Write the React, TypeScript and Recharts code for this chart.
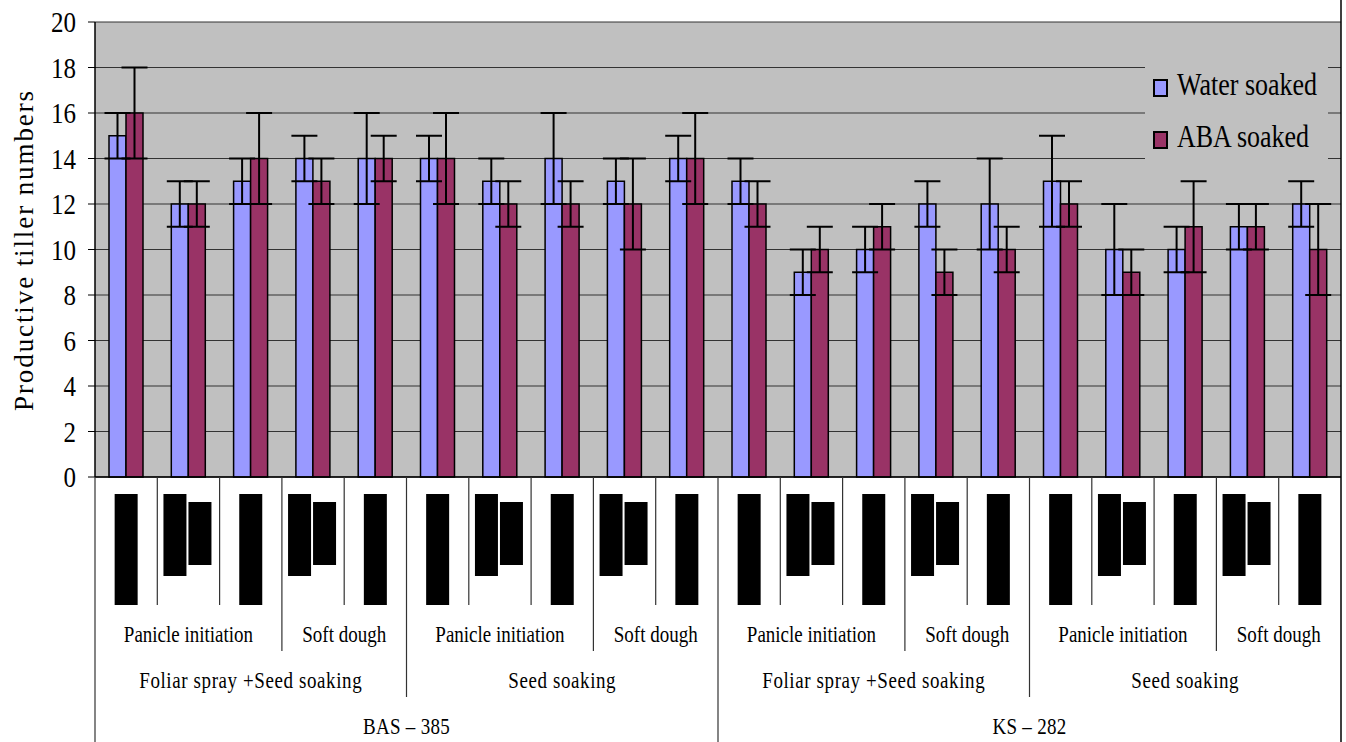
import React from 'react';
import { BarChart, Bar, XAxis, YAxis, CartesianGrid, Legend, ErrorBar, Label } from 'recharts';

// --- Data ---
const categories = [
  'T1', 'T2', 'T3', 'T4', 'T5', 'T6', 'T7', 'T8', 'T9', 'T10',
  'T11', 'T12', 'T13', 'T14', 'T15', 'T16', 'T17', 'T18', 'T19', 'T20',
];
// number of (hidden) label blocks printed under each bar pair
const labelBlocks = [1, 2, 1, 2, 1, 1, 2, 1, 2, 1, 1, 2, 1, 2, 1, 1, 2, 1, 2, 1];
const stages = [
  'Panicle initiation', 'Panicle initiation', 'Panicle initiation', 'Soft dough', 'Soft dough',
  'Panicle initiation', 'Panicle initiation', 'Panicle initiation', 'Soft dough', 'Soft dough',
  'Panicle initiation', 'Panicle initiation', 'Panicle initiation', 'Soft dough', 'Soft dough',
  'Panicle initiation', 'Panicle initiation', 'Panicle initiation', 'Soft dough', 'Soft dough',
];
const methods = [
  'Foliar spray +Seed soaking', 'Foliar spray +Seed soaking', 'Foliar spray +Seed soaking', 'Foliar spray +Seed soaking', 'Foliar spray +Seed soaking',
  'Seed soaking', 'Seed soaking', 'Seed soaking', 'Seed soaking', 'Seed soaking',
  'Foliar spray +Seed soaking', 'Foliar spray +Seed soaking', 'Foliar spray +Seed soaking', 'Foliar spray +Seed soaking', 'Foliar spray +Seed soaking',
  'Seed soaking', 'Seed soaking', 'Seed soaking', 'Seed soaking', 'Seed soaking',
];
const varieties = [
  'BAS – 385', 'BAS – 385', 'BAS – 385', 'BAS – 385', 'BAS – 385',
  'BAS – 385', 'BAS – 385', 'BAS – 385', 'BAS – 385', 'BAS – 385',
  'KS – 282', 'KS – 282', 'KS – 282', 'KS – 282', 'KS – 282',
  'KS – 282', 'KS – 282', 'KS – 282', 'KS – 282', 'KS – 282',
];
const waterSoaked = [15, 12, 13, 14, 14, 14, 13, 14, 13, 14, 13, 9, 10, 12, 12, 13, 10, 10, 11, 12];
const waterErr = [1, 1, 1, 1, 2, 1, 1, 2, 1, 1, 1, 1, 1, 1, 2, 2, 2, 1, 1, 1];
const abaSoaked = [16, 12, 14, 13, 14, 14, 12, 12, 12, 14, 12, 10, 11, 9, 10, 12, 9, 11, 11, 10];
const abaErr = [2, 1, 2, 1, 1, 2, 1, 1, 2, 2, 1, 1, 1, 1, 1, 1, 1, 2, 1, 2];
const yTicks = [0, 2, 4, 6, 8, 10, 12, 14, 16, 18, 20];
const seriesNames = ['Water soaked', 'ABA soaked'];

const rows = categories.map((name, i) => ({
  name,
  water: waterSoaked[i],
  waterErr: waterErr[i],
  aba: abaSoaked[i],
  abaErr: abaErr[i],
}));

// --- Layout ---
const CHART_W = 1346;
const CHART_H = 742;
const Y_AXIS_W = 95;
const X_AXIS_H = 265;
const MARGIN = { top: 22, right: 5, left: 0, bottom: 0 };
const BAND = (CHART_W - MARGIN.right - Y_AXIS_W) / categories.length;
const FONT = 'Liberation Serif, Times New Roman, serif';
const LINE = '#333';

const levels = [stages, methods, varieties];
const levelDepth = [128, 174, 220, 265]; // separator lengths below the axis
const levelBaseline = [165, 211, 257];
const levelSpacing = [0, 0.6, 0.3];

// key of a group at a level includes all higher levels
const groupKey = (lvl: number, i: number) =>
  levels.slice(lvl).map((l) => l[i]).join('|');

const CategoryTick = (props: any) => {
  const { x, y, payload } = props;
  const i = categories.indexOf(payload.value);
  const left = x - BAND / 2;

  // separator on the left edge of this category
  let depth = levelDepth[0];
  if (i === 0) depth = levelDepth[3];
  else {
    for (let l = 0; l < levels.length; l++) {
      if (levels[l][i] !== levels[l][i - 1]) depth = levelDepth[l + 1];
    }
  }

  const labels = levels.map((lvl, l) => {
    if (i > 0 && groupKey(l, i) === groupKey(l, i - 1)) return null;
    let n = 0;
    while (i + n < categories.length && groupKey(l, i + n) === groupKey(l, i)) n++;
    const cx = left + (n * BAND) / 2;
    return (
      <text
        key={`lvl-${l}`}
        transform={`translate(${cx}, ${y + levelBaseline[l]}) scale(1, 1.18)`}
        textAnchor="middle"
        fontSize={19}
        letterSpacing={levelSpacing[l]}
        fontFamily={FONT}
        fill="#000"
      >
        {lvl[i]}
      </text>
    );
  });

  return (
    <g>
      <line x1={left} y1={y} x2={left} y2={y + depth} stroke={LINE} strokeWidth={1.2} />
      {i === categories.length - 1 && (
        <line x1={left + BAND} y1={0} x2={left + BAND} y2={CHART_H} stroke="#000" strokeWidth={1.5} />
      )}
      {labelBlocks[i] === 1 ? (
        <rect x={x - 11.5} y={y + 17} width={23} height={111} fill="#000" />
      ) : (
        <>
          <rect x={x - 25} y={y + 17} width={23} height={82} fill="#000" />
          <rect x={x} y={y + 25} width={23} height={63} fill="#000" />
        </>
      )}
      {labels}
    </g>
  );
};

const ValueTick = (props: any) => {
  const { x, y, payload } = props;
  return (
    <g transform={`translate(${x}, ${y}) scale(1, 1.15)`}>
      <text textAnchor="end" dy="0.35em" fontSize={25} fontFamily={FONT} fill="#000">
        {payload.value}
      </text>
    </g>
  );
};

const YAxisTitle = () => (
  <text
    x={33}
    y={250}
    transform="rotate(-90, 33, 250)"
    textAnchor="middle"
    fontSize={27}
    letterSpacing={1.9}
    fontFamily={FONT}
    fill="#000"
  >
    Productive tiller numbers
  </text>
);

const LegendBox = ({ payload }: any) => {
  const items = [...(payload || [])].sort(
    (a: any, b: any) => seriesNames.indexOf(a.value) - seriesNames.indexOf(b.value)
  );
  return (
    <svg width={183} height={118} style={{ display: 'block' }}>
      {items.map((entry: any, idx: number) => (
        <g key={entry.value}>
          <rect
            x={9}
            y={32 + idx * 52}
            width={13}
            height={16}
            fill={entry.color}
            stroke="#000"
            strokeWidth={2}
          />
          <text
            transform={`translate(32, ${47 + idx * 52}) scale(1, 1.2)`}
            fontSize={26}
            fontFamily={FONT}
            fill="#000"
          >
            {entry.value}
          </text>
        </g>
      ))}
    </svg>
  );
};

export default function App() {
  return (
    <div style={{ position: 'absolute', left: 0, top: 0, background: '#fff' }}>
      <BarChart
        width={CHART_W}
        height={CHART_H}
        data={rows}
        margin={MARGIN}
        barGap={0}
        barSize={17}
      >
        <CartesianGrid vertical={false} stroke={LINE} fill="#C0C0C0" fillOpacity={1} />
        <XAxis
          dataKey="name"
          height={X_AXIS_H}
          interval={0}
          tickLine={false}
          tickSize={0}
          tickMargin={0}
          axisLine={{ stroke: '#000', strokeWidth: 1.5 }}
          tick={<CategoryTick />}
        />
        <YAxis
          width={Y_AXIS_W}
          domain={[0, 20]}
          ticks={yTicks}
          interval={0}
          tickSize={7}
          tickMargin={12}
          axisLine={{ stroke: '#000', strokeWidth: 1.5 }}
          tickLine={{ stroke: '#000' }}
          tick={<ValueTick />}
        >
          <Label content={<YAxisTitle />} />
        </YAxis>
        <Legend
          layout="vertical"
          align="center"
          verticalAlign="middle"
          content={<LegendBox />}
          wrapperStyle={{ left: 1145, top: 48, width: 183, height: 118, background: '#C0C0C0' }}
        />
        <Bar
          dataKey="water"
          name={seriesNames[0]}
          fill="#9999FF"
          stroke="#000"
          strokeWidth={1.5}
          isAnimationActive={false}
        >
          <ErrorBar dataKey="waterErr" width={13} stroke="#000" strokeWidth={2} isAnimationActive={false} />
        </Bar>
        <Bar
          dataKey="aba"
          name={seriesNames[1]}
          fill="#993366"
          stroke="#000"
          strokeWidth={1.5}
          isAnimationActive={false}
        >
          <ErrorBar dataKey="abaErr" width={13} stroke="#000" strokeWidth={2} isAnimationActive={false} />
        </Bar>
      </BarChart>
    </div>
  );
}
